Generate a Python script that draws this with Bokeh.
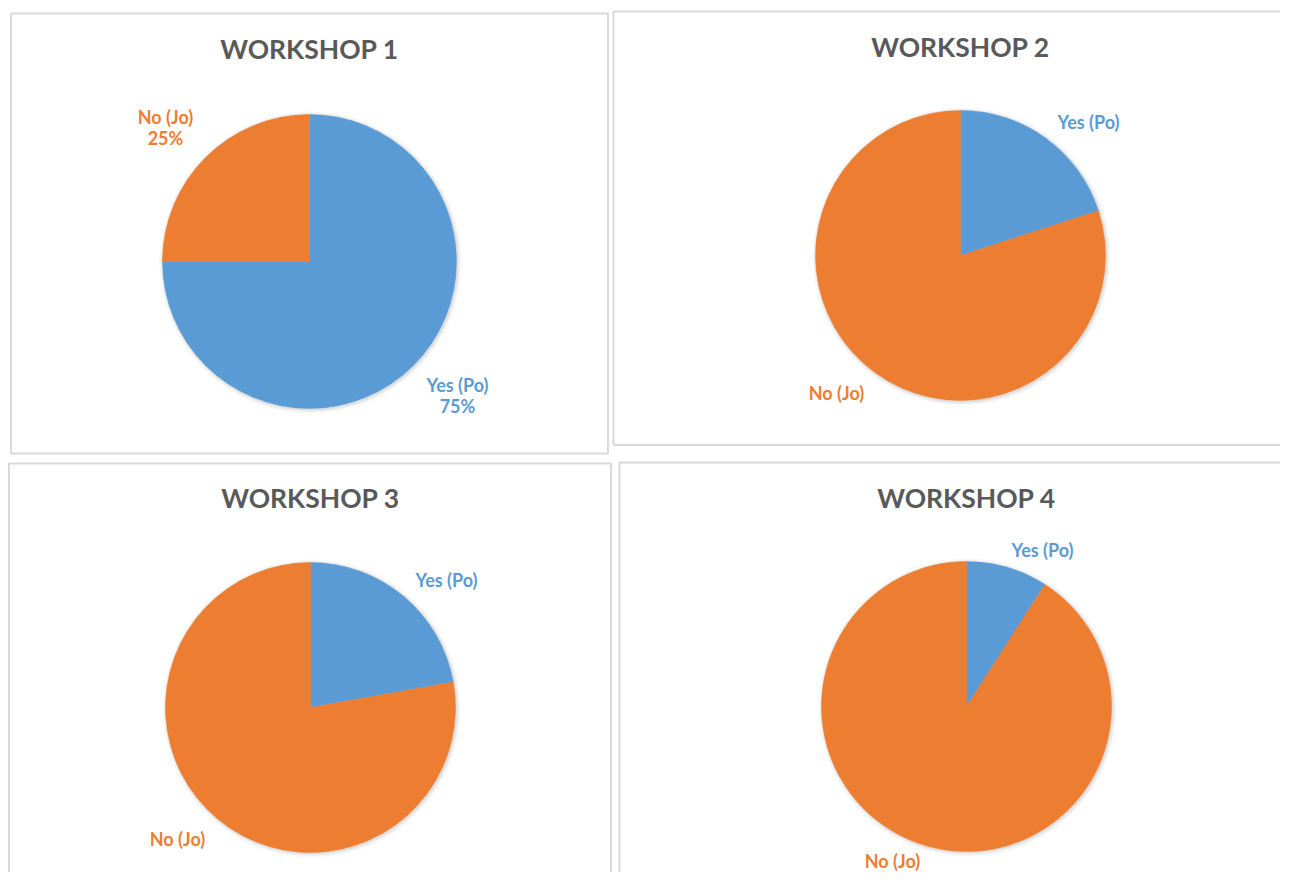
import math
from bokeh.plotting import figure
from bokeh.models import Range1d, ColumnDataSource
from bokeh.core.properties import value
from bokeh.embed import file_html
from bokeh.resources import INLINE

# ---------------- data ----------------
workshops = ["WORKSHOP 1", "WORKSHOP 2", "WORKSHOP 3", "WORKSHOP 4"]
categories = ["Yes (Po)", "No (Jo)"]
yes_share = [75.0, 20.0, 22.2, 9.1]
no_share = [25.0, 80.0, 77.8, 90.9]
show_percent = [True, False, False, False]

# ---------------- layout (page pixel coordinates) ----------------
BLUE = "#5B9BD5"
ORANGE = "#ED7D31"
TITLE_C = "#595959"
BORDER_C = "#D9D9D9"

W, H = 1280, 872
def Y(py):
    return 888 - py

panels = [  # left, right, top, bottom
    (10.5, 607.5, 13, 453),
    (613, 1300, 11, 444.5),
    (8.5, 610.5, 463, 900),
    (619, 1300, 462, 900),
]
centers = [(309, 261), (960, 255), (310, 707), (966, 706)]
radii = [147, 145, 145, 145]
title_y = [48, 46, 497, 497]
# label anchor (center of first line) for Yes / No
yes_pos = [(457, 384), (1088, 121), (446, 579), (1042, 549)]
no_pos = [(165, 116), (836, 392), (177, 838), (892, 860)]

p = figure(width=W, height=H, output_backend="svg", toolbar_location=None,
           x_range=Range1d(0, W), y_range=Range1d(888 - H, 888),
           min_border=0)
p.axis.visible = False
p.grid.visible = False
p.outline_line_color = None
p.background_fill_color = "white"
p.border_fill_color = "white"

# panel borders
p.quad(left=[b[0] for b in panels], right=[b[1] for b in panels],
       top=[Y(b[2]) for b in panels], bottom=[Y(b[3]) for b in panels],
       fill_color=None, line_color=BORDER_C, line_width=2)

# pies
xs, ys, rs, starts, ends, cols = [], [], [], [], [], []
for i in range(len(workshops)):
    cx, cy = centers[i]
    a0 = math.pi / 2
    a1 = a0 - 2 * math.pi * yes_share[i] / 100.0
    a2 = a1 - 2 * math.pi * no_share[i] / 100.0
    for s, e, c in ((a0, a1, BLUE), (a1, a2, ORANGE)):
        xs.append(cx); ys.append(Y(cy)); rs.append(radii[i])
        starts.append(s); ends.append(e); cols.append(c)

# soft shadow
for extra, alpha in ((4, 0.05), (2.5, 0.08), (1.2, 0.12)):
    p.circle(x=[c[0] + 1 for c in centers], y=[Y(c[1]) - 1 for c in centers],
             radius=[r + extra for r in radii], fill_color="#7F7F7F",
             fill_alpha=alpha, line_color=None)

src = ColumnDataSource(dict(x=xs, y=ys, r=rs, s=starts, e=ends, c=cols))
p.wedge(x="x", y="y", radius="r", start_angle="s", end_angle="e",
        direction="clock", fill_color="c", line_color="c", line_width=0.5,
        source=src)

# titles
p.text(x=[c[0] for c in centers], y=[Y(t) for t in title_y], text=workshops,
       text_font=value("Lato"), text_font_style="bold", text_font_size="26.5px",
       text_color=TITLE_C, text_align="center", text_baseline="middle")

# labels
lx, ly, lt, lc = [], [], [], []
for i in range(len(workshops)):
    for pos, cat, share, col in ((yes_pos[i], categories[0], yes_share[i], BLUE),
                                 (no_pos[i], categories[1], no_share[i], ORANGE)):
        lx.append(pos[0]); ly.append(Y(pos[1])); lt.append(cat); lc.append(col)
        if show_percent[i]:
            lx.append(pos[0]); ly.append(Y(pos[1] + 21))
            lt.append(f"{share:.0f}%"); lc.append(col)

p.text(x=lx, y=ly, text=lt, text_color=lc,
       text_font=value("Lato"), text_font_style="bold", text_font_size="18px",
       text_align="center", text_baseline="middle")

open("out.html", "w").write(file_html(p, INLINE))
